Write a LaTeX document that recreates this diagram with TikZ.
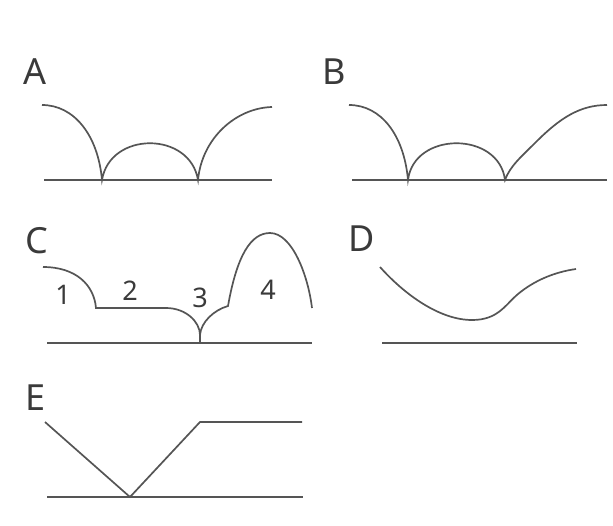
\documentclass[tikz,border=0pt]{standalone}
\usepackage{fontspec}
\setmainfont{Noto Sans}
\definecolor{linec}{HTML}{555555}
\definecolor{textc}{HTML}{3A3A3A}
\begin{document}
\begin{tikzpicture}[x=1pt,y=-1pt,
  curve/.style={draw=linec,line width=1.7pt},
  ground/.style={draw=linec,line width=1.7pt},
  letter/.style={text=textc,font=\fontsize{36}{36}\selectfont,inner sep=0pt},
  digit/.style={text=textc,font=\fontsize{27}{27}\selectfont,inner sep=0pt}]
\useasboundingbox (0,0) rectangle (613,525);
% labels
\node[letter] (la) at (35,72) {A};
\node[letter] (lb) at (334,72) {B};
\node[letter] (lc) at (37,241) {C};
\node[letter] (ld) at (362,239) {D};
\node[letter] (le) at (36,398) {E};
\node[digit] (n1) at (63,295) {1};
\node[digit] (n2) at (130,291) {2};
\node[digit] (n3) at (200,298) {3};
\node[digit] (n4) at (268,290) {4};
% A
\draw[ground] (44,180) -- (272,180);
\draw[curve] (42,105) .. controls (74,105) and (98,135) .. (102,180)
  .. controls (110,131) and (190,131) .. (198,180)
  .. controls (202,138) and (236,108) .. (272,107);
% B
\draw[ground] (352,180) -- (607,180);
\draw[curve] (349,105) .. controls (381,105) and (404,135) .. (408,180)
  .. controls (414,131) and (499,131) .. (505,180)
  .. controls (510,166) and (522,156) .. (536,142)
  .. controls (560,118) and (580,105) .. (607,105);
% C
\draw[ground] (47,343) -- (312,343);
\draw[curve] (43,267) .. controls (76,267) and (94,285) .. (96,308)
  -- (166,308) .. controls (186,308) and (200,322) .. (200,335) -- (200,343);
\draw[curve] (200,335) .. controls (201,322) and (214,310) .. (228,306)
  .. controls (237,255) and (251,233) .. (270,233)
  .. controls (292,233) and (308,275) .. (312,308);
% D
\draw[ground] (382,343) -- (577,343);
\draw[curve] (380,267) .. controls (405,295) and (440,320) .. (472,320)
  .. controls (498,320) and (505,305) .. (518,294)
  .. controls (535,280) and (555,272) .. (576,269);
% E
\draw[ground] (47,497) -- (303,497);
\draw[curve] (45,422) -- (130,497) -- (200,422) -- (302,422);
\end{tikzpicture}
\end{document}
